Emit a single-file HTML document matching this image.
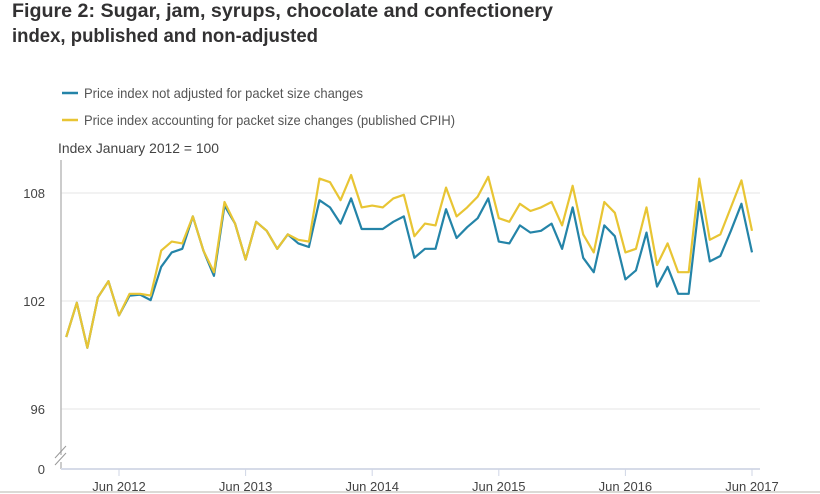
<!DOCTYPE html>
<html><head><meta charset="utf-8"><style>
html,body{margin:0;padding:0;background:#fff;}
svg{display:block;font-family:"Liberation Sans",sans-serif;}
</style></head><body>
<svg id="chart" width="820" height="494" viewBox="0 0 820 494">
<text x="12" y="17" font-size="19" font-weight="bold" fill="#323132" textLength="541" lengthAdjust="spacingAndGlyphs">Figure 2: Sugar, jam, syrups, chocolate and confectionery</text>
<text x="12" y="42" font-size="19" font-weight="bold" fill="#323132" textLength="306" lengthAdjust="spacingAndGlyphs">index, published and non-adjusted</text>
<g>
<line x1="62" y1="93" x2="78" y2="93" stroke="#2484a8" stroke-width="2.5"/>
<text x="84" y="98" font-size="14" fill="#555" textLength="279" lengthAdjust="spacingAndGlyphs">Price index not adjusted for packet size changes</text>
<line x1="62" y1="120" x2="78" y2="120" stroke="#e8c534" stroke-width="2.5"/>
<text x="84" y="125" font-size="14" fill="#555" textLength="371" lengthAdjust="spacingAndGlyphs">Price index accounting for packet size changes (published CPIH)</text>
</g>
<text x="58" y="153" font-size="14" fill="#444" textLength="161" lengthAdjust="spacingAndGlyphs">Index January 2012 = 100</text>
<g id="grid"></g>
<g id="axes"></g>
<g id="series"></g>
<line x1="0" y1="492" x2="820" y2="492" stroke="#cfcdc8" stroke-width="1.5"/>
</svg>
<script>
const yTicks = [96, 102, 108];
const xTickLabels = ["Jun 2012","Jun 2013","Jun 2014","Jun 2015","Jun 2016","Jun 2017"];
const xTickMonths = [5, 17, 29, 41, 53, 65];
const notAdjusted = [100.0,101.9,99.4,102.2,103.1,101.2,102.3,102.35,102.05,103.9,104.7,104.9,106.7,104.8,103.4,107.3,106.3,104.3,106.4,105.9,104.9,105.7,105.2,105.0,107.6,107.2,106.3,107.7,106.0,106.0,106.0,106.4,106.7,104.4,104.9,104.9,107.1,105.5,106.1,106.6,107.7,105.3,105.2,106.2,105.8,105.9,106.3,104.9,107.2,104.4,103.6,106.2,105.6,103.2,103.7,105.8,102.8,103.9,102.4,102.4,107.5,104.2,104.5,105.9,107.4,104.7];
const published = [100.0,101.9,99.4,102.2,103.1,101.2,102.4,102.4,102.3,104.8,105.3,105.2,106.7,104.8,103.6,107.5,106.3,104.3,106.4,105.9,104.9,105.7,105.4,105.3,108.8,108.6,107.6,109.0,107.2,107.3,107.2,107.7,107.9,105.6,106.3,106.2,108.3,106.7,107.2,107.8,108.9,106.6,106.4,107.4,107.0,107.2,107.5,106.2,108.4,105.7,104.7,107.5,106.9,104.7,104.9,107.2,104.0,105.2,103.6,103.6,108.8,105.4,105.7,107.2,108.7,105.9];

const NS = "http://www.w3.org/2000/svg";
function xScale(i){ return 66.25 + 10.55*i; }
function yScale(v){ return 193 + (108 - v)*18; }
function mk(tag, attrs, parent){
  const e = document.createElementNS(NS, tag);
  for (const k in attrs) e.setAttribute(k, attrs[k]);
  parent.appendChild(e); return e;
}
const grid = document.getElementById('grid');
const axes = document.getElementById('axes');
const series = document.getElementById('series');

yTicks.forEach(t => {
  const y = yScale(t);
  const l = mk('line', {x1:61, x2:760, y1:y, y2:y, stroke:'#e6e6e6', 'stroke-width':1}, grid);
  
  
  const tx = mk('text', {x:45, y:y+5, 'font-size':13, fill:'#444', 'text-anchor':'end'}, grid);
  tx.textContent = t;
  
  
});
const zl = mk('text', {x:45, y:474, 'font-size':13, fill:'#444', 'text-anchor':'end'}, grid);
zl.textContent = '0';



const ya = mk('path', {d:'M61,160 V455 M61,462 V469', stroke:'#bbb', 'stroke-width':1.5, fill:'none'}, axes);


const brk = mk('path', {d:'M55,458 L66,446 M55,465 L66,453', stroke:'#999', 'stroke-width':1, fill:'none'}, axes);


const xa = mk('line', {x1:61, x2:760, y1:469, y2:469, stroke:'#d6dbe8', 'stroke-width':2}, axes);



xTickMonths.forEach((m, k) => {
  const x = xScale(m);
  const t = mk('line', {x1:x, x2:x, y1:469, y2:476, stroke:'#cfd6e6', 'stroke-width':1}, axes);
  
  
  const tx = mk('text', {x:x, y:491, 'font-size':13, fill:'#444', 'text-anchor':'middle'}, axes);
  tx.textContent = xTickLabels[k];
  
  
});

function drawLine(vals, color, name){
  const d = vals.map((v,i) => (i ? 'L' : 'M') + xScale(i).toFixed(2) + ',' + yScale(v).toFixed(2)).join(' ');
  const p = mk('path', {d:d, stroke:color, 'stroke-width':2.2, fill:'none', 'stroke-linejoin':'round'}, series);
  
  
}
drawLine(notAdjusted, '#2484a8', 'series-not-adjusted');
drawLine(published, '#e8c534', 'series-published');
</script>
</body></html>
